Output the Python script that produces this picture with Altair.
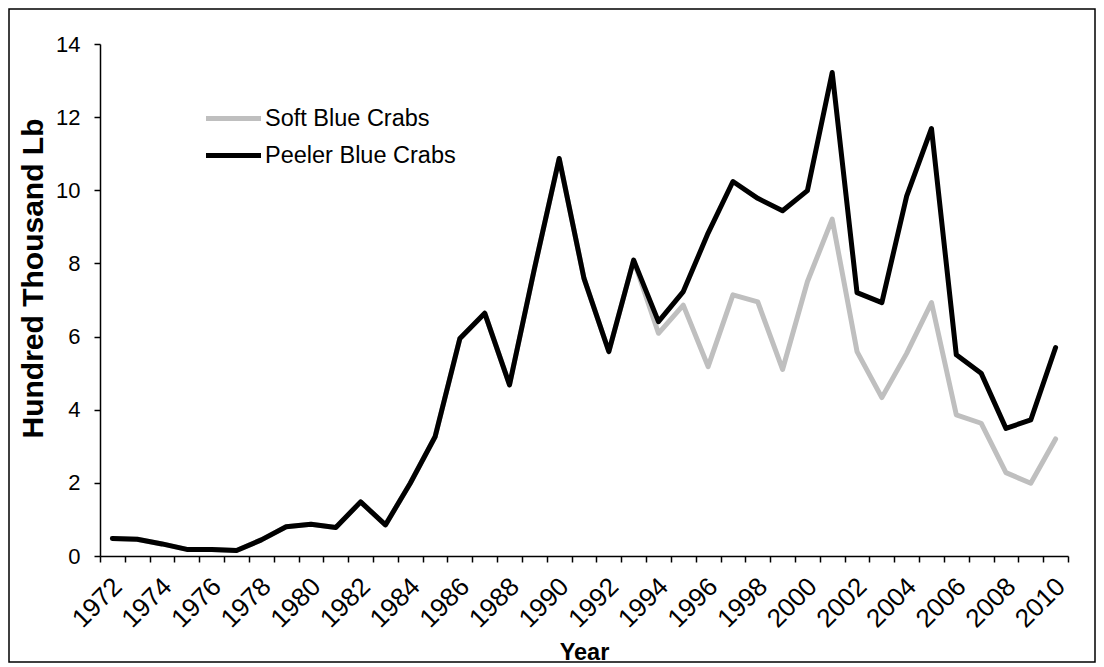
import altair as alt
import pandas as pd

# ---------------- data ----------------
years = list(range(1972, 2011))

soft = [0.48, 0.46, 0.33, 0.18, 0.18, 0.15, 0.44, 0.80, 0.87, 0.78,
        1.48, 0.85, 1.99, 3.26, 5.95, 6.64, 4.68, 7.85, 10.87, 7.59,
        5.59, 8.09, 6.09, 6.86, 5.18, 7.14, 6.95, 5.10, 7.50, 9.21,
        5.59, 4.33, 5.54, 6.93, 3.86, 3.63, 2.28, 1.99, 3.20]

peeler = [0.48, 0.46, 0.33, 0.18, 0.18, 0.15, 0.44, 0.80, 0.87, 0.78,
          1.48, 0.85, 1.99, 3.26, 5.95, 6.64, 4.68, 7.85, 10.87, 7.59,
          5.59, 8.09, 6.41, 7.23, 8.83, 10.24, 9.78, 9.44, 9.99, 13.22,
          7.20, 6.93, 9.84, 11.69, 5.50, 5.00, 3.49, 3.72, 5.70]

series_names = ["Soft Blue Crabs", "Peeler Blue Crabs"]
series_colors = ["#BFBFBF", "#000000"]

y_ticks = [0, 2, 4, 6, 8, 10, 12, 14]
x_label_years = list(range(1972, 2011, 2))
x_tick_bounds = [y - 0.5 for y in range(1972, 2012)]

df = pd.DataFrame({
    "Year": years + years,
    "Value": soft + peeler,
    "Series": [series_names[0]] * len(years) + [series_names[1]] * len(years),
})

FONT = "Liberation Sans"

x_scale = alt.Scale(domain=[1971.5, 2010.5], nice=False, zero=False)
y_scale = alt.Scale(domain=[0, 14], nice=False)

color = alt.Color(
    "Series:N",
    scale=alt.Scale(domain=series_names, range=series_colors),
    legend=alt.Legend(
        orient="none", legendX=103.5, legendY=57, direction="vertical",
        title=None, symbolType="stroke", symbolSize=3025, symbolStrokeWidth=5,
        labelFontSize=23.5, labelFont=FONT, labelColor="black", labelOffset=1.5,
        labelLimit=400, clipHeight=35, rowPadding=2, padding=0,
    ),
)

y_axis = alt.Axis(
    values=y_ticks, tickSize=6, labelPadding=14, labelFontSize=22, labelFont=FONT,
    labelColor="black", tickColor="black", domainColor="black", domainWidth=1.5,
    tickWidth=1.5, grid=False, title="Hundred Thousand Lb", titleFont=FONT,
    titleFontSize=30, titleFontWeight="bold", titleAngle=270, titleAlign="center",
    titleBaseline="alphabetic", titleX=-58, titleY=234, titleColor="black",
)

axis_ticks = alt.Axis(
    orient="bottom", values=x_tick_bounds, tickSize=6, labels=False, grid=False,
    domainColor="black", domainWidth=1.5, tickColor="black", tickWidth=1.5,
    title="Year", titleFont=FONT, titleFontSize=23.5, titleFontWeight="bold",
    titleColor="black", titleX=484, titleY=103, titleAlign="center",
    titleBaseline="alphabetic",
)

axis_labels = alt.Axis(
    orient="bottom", values=x_label_years, ticks=False, tickSize=0, domain=False,
    grid=False, labelAngle=315, labelAlign="right", labelBaseline="middle",
    labelPadding=26, labelOffset=5, labelFontSize=26, labelFont=FONT,
    labelColor="black", labelOverlap=False, labelFlush=False, labelBound=False,
    format="d", title=None,
)

line_props = dict(strokeWidth=5, strokeJoin="round", strokeCap="round")

gray = alt.Chart(df).transform_filter(
    alt.datum.Series == series_names[0]
).mark_line(**line_props).encode(
    x=alt.X("Year:Q", scale=x_scale, axis=axis_ticks),
    y=alt.Y("Value:Q", scale=y_scale, axis=y_axis),
    color=color,
)

black = alt.Chart(df).transform_filter(
    alt.datum.Series == series_names[1]
).mark_line(**line_props).encode(
    x=alt.X("Year:Q", scale=x_scale, axis=axis_labels),
    y=alt.Y("Value:Q", scale=y_scale, axis=y_axis),
    color=color,
)

frame = alt.Chart(alt.Data(values=[{"f": 1}])).mark_rect(
    filled=False, stroke="black", strokeWidth=1.5
).encode(
    x=alt.value(-91), x2=alt.value(995), y=alt.value(-35), y2=alt.value(618)
)

chart = alt.layer(gray, black, frame).resolve_axis(x="independent").properties(
    width=968, height=512,
    padding={"left": 92, "top": 36, "right": 28, "bottom": 107},
    autosize=alt.AutoSizeParams(type="none"),
    background="white",
).configure_view(strokeWidth=0)

chart.save("out.html", embed_options={"renderer": "svg", "actions": False})
